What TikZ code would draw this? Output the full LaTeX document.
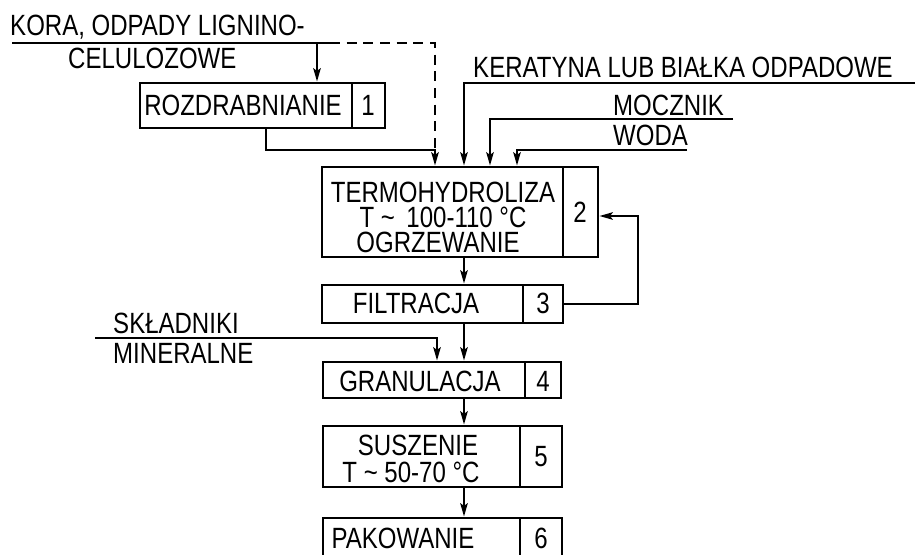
\documentclass[tikz,border=0pt]{standalone}
\usepackage{fontspec}
\setmainfont[FakeStretch=0.82]{Liberation Sans}
\usetikzlibrary{arrows.meta,fit}
\tikzset{
  lbl/.style={font=\fontsize{25}{22}\selectfont, inner sep=0},
  box/.style={draw, line width=2.3pt, inner sep=0},
  ln/.style={line width=2.1pt},
  arr/.style={ln, -{Stealth[length=0.4cm,width=0.22cm,inset=0.08cm]}},
  dsh/.style={ln, dash pattern=on 0.3cm off 0.2cm},
}
\begin{document}
\begin{tikzpicture}[x=0.03cm, y=-0.03cm]
\path[use as bounding box, clip] (0,0) rectangle (915,554);
\fill[white] (0,0) rectangle (915,554);

% boxes
\node[box, fit={(140,83)(352,128)}] (b1) {};
\node[box, fit={(352,83)(385,128)}] (n1) {};
\node[box, fit={(322,167)(563,257)}] (b2) {};
\node[box, fit={(563,167)(598,257)}] (n2) {};
\node[box, fit={(322,285)(523,323)}] (b3) {};
\node[box, fit={(523,285)(563,323)}] (n3) {};
\node[box, fit={(323,362)(525,398)}] (b4) {};
\node[box, fit={(525,362)(561,398)}] (n4) {};
\node[box, fit={(323,426)(520,487)}] (b5) {};
\node[box, fit={(520,426)(562,487)}] (n5) {};
\node[box, fit={(323,518)(520,575)}] (b6) {};
\node[box, fit={(520,518)(562,575)}] (n6) {};

% box texts
\node[lbl, anchor=base] (l1) at (243,115) {ROZDRABNIANIE};
\node[lbl, anchor=base] (k1) at (368,115) {1};
\node[lbl, anchor=base] (l2a) at (443,202) {TERMOHYDROLIZA};
\node[lbl, anchor=base] (l2b) at (443,227) {T \textasciitilde\ \,100-110 °C};
\node[lbl, anchor=base] (l2c) at (438,252) {OGRZEWANIE};
\node[lbl, anchor=base] (k2) at (580,222) {2};
\node[lbl, anchor=base] (l3) at (416,313) {FILTRACJA};
\node[lbl, anchor=base] (k3) at (543,313) {3};
\node[lbl, anchor=base] (l4) at (420,391) {GRANULACJA};
\node[lbl, anchor=base] (k4) at (543,391) {4};
\node[lbl, anchor=base] (l5a) at (418,455) {SUSZENIE};
\node[lbl, anchor=base] (l5b) at (411,482) {T \textasciitilde\ 50-70 °C};
\node[lbl, anchor=base] (k5) at (541,466) {5};
\node[lbl, anchor=base] (l6) at (403,548) {PAKOWANIE};
\node[lbl, anchor=base] (k6) at (541,548) {6};

% labels
\node[lbl, anchor=base west] (tKora) at (10,35) {KORA, ODPADY LIGNINO-};
\node[lbl, anchor=base west] (tCel) at (68,68) {CELULOZOWE};
\node[lbl, anchor=base west] (tKer) at (473,77) {KERATYNA LUB BIAŁKA ODPADOWE};
\node[lbl, anchor=base west] (tMoc) at (613,115) {MOCZNIK};
\node[lbl, anchor=base west] (tWod) at (613,145) {WODA};
\node[lbl, anchor=base west] (tSk) at (113,333) {SKŁADNIKI};
\node[lbl, anchor=base west] (tMin) at (113,363) {MINERALNE};

% coordinates
\coordinate (kA) at (12,43);
\coordinate (kB) at (330,43);
\coordinate (kC) at (435,43);
\coordinate (kD) at (317,43);
\coordinate (j1) at (435,150);
\coordinate (t1) at (266,150);
\coordinate (kr0) at (915,83);
\coordinate (kr1) at (464,83);
\coordinate (m0) at (733,119);
\coordinate (m1) at (490,119);
\coordinate (w0) at (687,150);
\coordinate (w1) at (517,150);
\coordinate (sp) at (464,0);
\coordinate (fb) at (638,216);
\coordinate (s0) at (95,338);
\coordinate (s1) at (437,338);

% connectors
\draw[ln] (kA) -- (kB);
\draw[dsh] (kB) -- (kC) -- (j1);
\draw[arr] (kD) -- (kD |- b1.north);
\draw[arr] (t1 |- b1.south) -- (t1) -- (j1) -- (j1 |- b2.north);
\draw[arr] (kr0) -- (kr1) -- (kr1 |- b2.north);
\draw[arr] (m0) -- (m1) -- (m1 |- b2.north);
\draw[arr] (w0) -- (w1) -- (w1 |- b2.north);
\draw[arr] (sp |- b2.south) -- (sp |- b3.north);
\draw[arr] (n3.east) -- (n3.east -| fb) -- (fb) -- (fb -| n2.east);
\draw[arr] (sp |- b3.south) -- (sp |- b4.north);
\draw[arr] (s0) -- (s1) -- (s1 |- b4.north);
\draw[arr] (sp |- b4.south) -- (sp |- b5.north);
\draw[arr] (sp |- b5.south) -- (sp |- b6.north);
\end{tikzpicture}
\end{document}
